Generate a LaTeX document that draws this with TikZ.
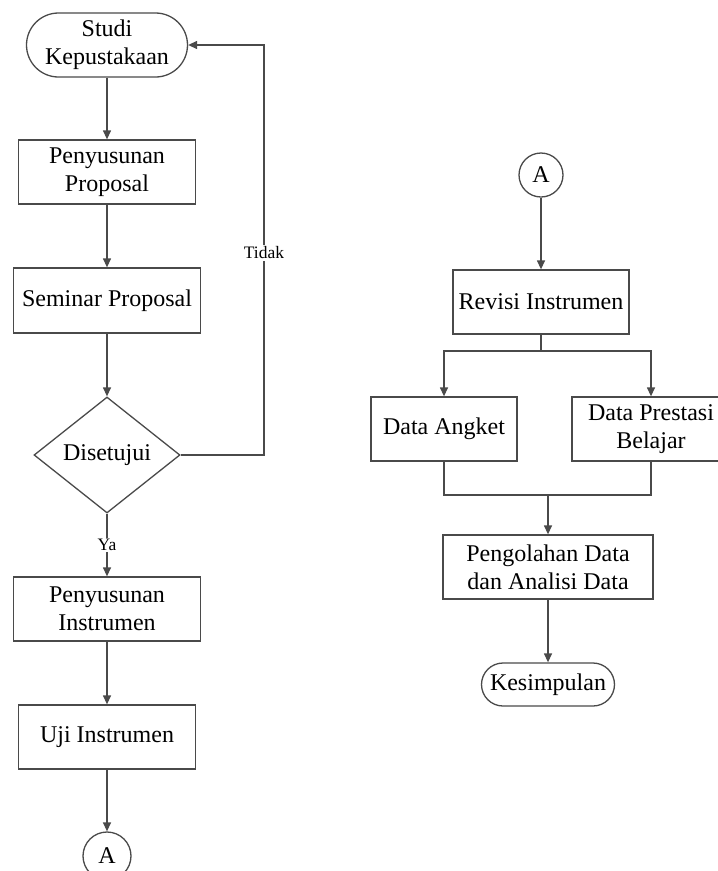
\documentclass[tikz,border=0pt]{standalone}
\usepackage{fontspec}
\setmainfont{Liberation Serif}
\usetikzlibrary{shapes.geometric,arrows.meta}
\definecolor{linec}{HTML}{4A4A4A}
\begin{document}
\begin{tikzpicture}[x=1pt,y=-1pt,
  line/.style={draw=linec, line width=1.3pt},
  arr/.style={line, -{Triangle[width=8pt,length=9pt]}},
  txt/.style={align=center, text=black, font=\fontsize{24}{28}\selectfont},
  box/.style={txt, draw=linec, line width=1.3pt, rectangle, inner sep=0pt},
  term/.style={box, rounded corners=#1},
  dec/.style={txt, draw=linec, line width=1.3pt, diamond, inner sep=0pt},
  conn/.style={txt, draw=linec, line width=1.3pt, circle, inner sep=0pt},
  lbl/.style={fill=white, text=black, inner sep=1.5pt, font=\fontsize{17.5}{20}\selectfont}
]
\useasboundingbox (0,0) rectangle (718,871);
\fill[white] (0,0) rectangle (718,871);
\clip (0,0) rectangle (718,871);

% left column
\node[term=32pt, minimum width=161pt, minimum height=64pt] (studi) at (107,45) {Studi\\Kepustakaan};
\node[box, minimum width=177pt, minimum height=64pt] (pp) at (107,172) {Penyusunan\\Proposal};
\node[box, minimum width=187pt, minimum height=65pt] (sp) at (107,300.5) {Seminar Proposal};
\node[dec, minimum width=146pt, minimum height=116pt] (dis) at (107,455) {Disetujui};
\node[box, minimum width=187pt, minimum height=64pt] (pi) at (107,609) {Penyusunan\\Instrumen};
\node[box, minimum width=177pt, minimum height=64pt] (uji) at (107,737) {Uji Instrumen};
\node[conn, minimum size=48pt] (a1) at (107,856) {A};

\draw[arr] (studi) -- (pp);
\draw[arr] (pp) -- (sp);
\draw[arr] (sp) -- (dis.north);
\draw[arr] (dis.south) -- node[lbl]{Ya} (pi.north);
\draw[arr] (pi) -- (uji);
\draw[arr] (uji) -- (a1);
\coordinate (fb) at (264,455);
\draw[arr] (dis.east) -- (fb) |- (studi.east);
\node[lbl] (tidak) at (264,253) {Tidak};

% right column
\node[conn, minimum size=44pt] (a2) at (541,175) {A};
\node[box, minimum width=176pt, minimum height=64pt] (rev) at (541,302) {Revisi Instrumen};
\node[box, minimum width=146pt, minimum height=64pt] (da) at (444,429) {Data Angket};
\node[box, minimum width=158pt, minimum height=64pt] (dp) at (651,429) {Data Prestasi\\Belajar};
\node[box, minimum width=210pt, minimum height=64pt] (peng) at (548,567) {Pengolahan Data\\dan Analisi Data};
\node[term=21.5pt, minimum width=133pt, minimum height=43pt] (kes) at (548,684.5) {Kesimpulan};

\draw[arr] (a2) -- (rev);
\coordinate (sp1) at (541,351);
\draw[line] (rev.south) -- (sp1);
\draw[arr] (sp1) -| (da.north);
\draw[arr] (sp1) -| (dp.north);
\coordinate (mg) at (548,495);
\draw[line] (da.south) |- (mg);
\draw[line] (dp.south) |- (mg);
\draw[arr] (mg) -- (peng.north);
\draw[arr] (peng) -- (kes);
\end{tikzpicture}
\end{document}
